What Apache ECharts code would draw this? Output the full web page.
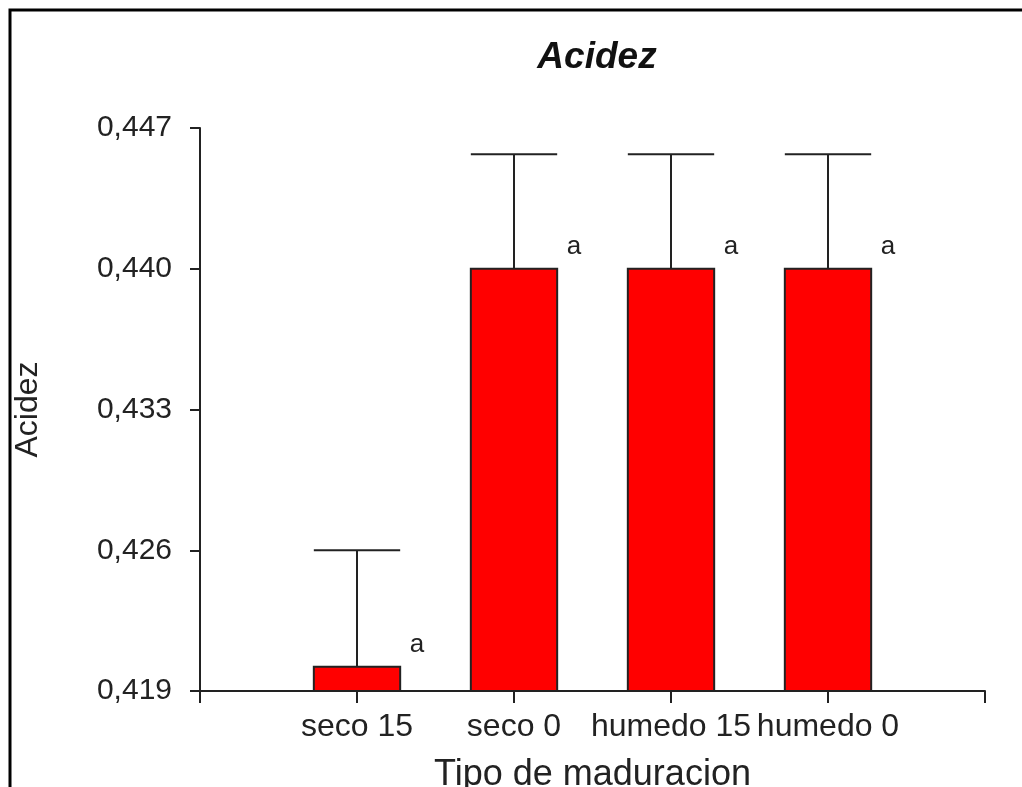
<!DOCTYPE html>
<html>
<head>
<meta charset="utf-8">
<script src="https://cdn.jsdelivr.net/npm/echarts@6/dist/echarts.min.js"></script>
<style>html,body{margin:0;padding:0;background:#fff;}#c{width:1022px;height:787px;}</style>
</head>
<body>
<div id="c"></div>
<script>
const categories = ['', 'seco 15', 'seco 0', 'humedo 15', 'humedo 0', ''];
const means = [null, 0.4202, 0.440, 0.440, 0.440, null];
const upperErr = [null, 0.4260, 0.4457, 0.4457, 0.4457, null];
const letters = ['', 'a', 'a', 'a', 'a', ''];
const yTicks = [0.419, 0.426, 0.433, 0.440, 0.447];
const yMin = 0.419, yMax = 0.447, yStep = 0.007;

const FONT = 'Liberation Sans';
const data = [];
for (let i = 0; i < categories.length; i++) {
  if (means[i] != null) data.push([i, means[i], upperErr[i], letters[i]]);
}

const chart = echarts.init(document.getElementById('c'), null, {renderer: 'canvas'});
chart.setOption({
  animation: false,
  backgroundColor: '#fff',
  title: {
    text: 'Acidez', left: 592, top: 34, textAlign: 'center',
    textStyle: {fontFamily: FONT, fontSize: 37, fontStyle: 'italic', fontWeight: 'bold', color: '#111'}
  },
  graphic: [{
    type: 'rect', shape: {x: 10, y: 10, width: 1200, height: 1000},
    style: {fill: 'none', stroke: '#000', lineWidth: 3}, silent: true
  }],
  grid: {left: 200, right: 37, top: 128, bottom: 96, containLabel: false, outerBoundsMode: 'none'},
  xAxis: {
    type: 'category', data: categories, boundaryGap: false,
    name: 'Tipo de maduracion', nameLocation: 'middle', nameGap: 66,
    nameTextStyle: {fontFamily: FONT, fontSize: 36, color: '#222'},
    axisLine: {lineStyle: {color: '#222', width: 2}},
    axisTick: {show: true, interval: 0, length: 12, lineStyle: {color: '#222', width: 2}},
    axisLabel: {interval: 0, margin: 20, fontFamily: FONT, fontSize: 32, color: '#222', hideOverlap: false},
    splitLine: {show: false}
  },
  yAxis: {
    type: 'value', min: yMin, max: yMax, interval: yStep,
    name: 'Acidez', nameLocation: 'middle', nameGap: 156, nameRotate: 90,
    nameTextStyle: {fontFamily: FONT, fontSize: 32, color: '#222'},
    axisLine: {show: true, lineStyle: {color: '#222', width: 2}},
    axisTick: {show: true, length: 10, lineStyle: {color: '#222', width: 2}},
    axisLabel: {
      margin: 28, fontFamily: FONT, fontSize: 30, color: '#222',
      formatter: v => v.toFixed(3).replace('.', ',')
    },
    splitLine: {show: false}
  },
  series: [{
    type: 'custom',
    data: data,
    encode: {x: 0, y: 1},
    clip: false,
    renderItem: function (params, api) {
      const i = api.value(0);
      const mean = api.value(1);
      const hi = api.value(2);
      const letter = letters[i];
      const base = api.coord([i, yMin]);
      const top = api.coord([i, mean]);
      const et = api.coord([i, hi]);
      const w = api.size([1, 0])[0] * 0.55;
      const cx = base[0];
      return {
        type: 'group',
        children: [
          {type: 'line', shape: {x1: cx, y1: top[1], x2: cx, y2: et[1]}, style: {stroke: '#222', lineWidth: 2}},
          {type: 'line', shape: {x1: cx - w / 2, y1: et[1], x2: cx + w / 2, y2: et[1]}, style: {stroke: '#222', lineWidth: 2}},
          {type: 'rect', shape: {x: cx - w / 2, y: top[1], width: w, height: base[1] - top[1]}, style: {fill: '#ff0000', stroke: '#222', lineWidth: 2}},
          {type: 'text', style: {text: letter, x: cx + 60, y: top[1] - 22, align: 'center', verticalAlign: 'middle', fontFamily: FONT, fontSize: 26, fill: '#222'}}
        ]
      };
    }
  }]
});
</script>
</body>
</html>
